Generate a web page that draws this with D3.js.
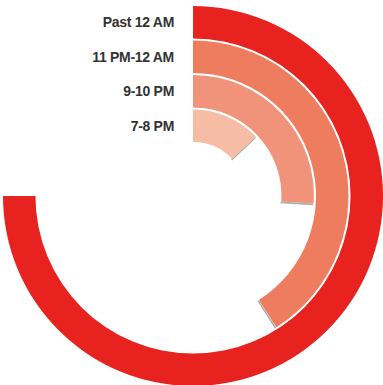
<!DOCTYPE html>
<html>
<head>
<meta charset="utf-8">
<script src="https://cdn.jsdelivr.net/npm/d3@7"></script>
<style>
  html, body { margin: 0; padding: 0; background: #fff; }
  #chart { width: 383px; height: 385px; }
</style>
</head>
<body>
<div id="chart"></div>
<script>
// categories, inner ring first
const categories = ["7-8 PM", "9-10 PM", "11 PM-12 AM", "Past 12 AM"]
// share of a full circle (percent)
const values = [13, 26, 41, 75]
const colors = ["#f6bca6", "#f0937a", "#ee7c5e", "#e8231f"]

const width = 383
const height = 385
const cx = 193
const cy = 196

const svg = d3.select("#chart").append("svg")
  .attr("width", width)
  .attr("height", height)

const root = svg.append("g").attr("transform", `translate(${cx},${cy})`)

// ring position
const r = d3.scaleBand()
  .domain(categories)
  .range([54, 190])
  .paddingInner(0.06)

// angle
const a = d3.scaleLinear()
  .domain([0, 100])
  .range([0, 2 * Math.PI])

const arc = d3.arc()
  .innerRadius(d => r(d.cat))
  .outerRadius(d => r(d.cat) + r.bandwidth())
  .startAngle(0)
  .endAngle(d => a(d.value))

const data = categories.map((c, i) => ({cat: c, value: values[i], color: colors[i], i}))

// faint shadow line at the end of the inner rings
root.selectAll("line.cap")
  .data(data.filter(d => d.i < 3))
  .enter()
  .append("line")
  .attr("x1", d => Math.sin(a(d.value)) * r(d.cat) - 0.8)
  .attr("y1", d => -Math.cos(a(d.value)) * r(d.cat) + 0.8)
  .attr("x2", d => Math.sin(a(d.value)) * (r(d.cat) + r.bandwidth()) - 0.8)
  .attr("y2", d => -Math.cos(a(d.value)) * (r(d.cat) + r.bandwidth()) + 0.8)
  .attr("stroke", "#8a8a8a")
  .attr("stroke-width", 1.6)
  .attr("opacity", 0.7)

root.selectAll("path")
  .data(data)
  .enter()
  .append("path")
  .attr("d", arc)
  .attr("fill", d => d.color)

// labels to the left of the start line
root.selectAll("text")
  .data(data)
  .enter()
  .append("text")
  .attr("x", -19)
  .attr("y", d => -(r(d.cat) + r.bandwidth() / 2))
  .attr("dy", "0.36em")
  .attr("text-anchor", "end")
  .attr("font-family", "Liberation Sans, Arial, sans-serif")
  .attr("font-weight", "bold")
  .attr("font-size", 14)
  .attr("letter-spacing", -0.3)
  .attr("fill", "#333")
  .text(d => d.cat)
</script>
</body>
</html>
